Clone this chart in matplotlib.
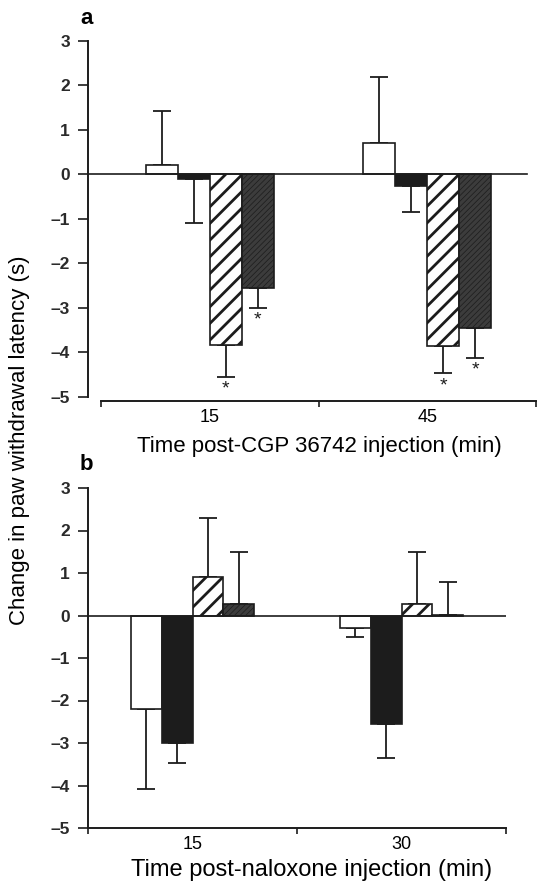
import matplotlib
matplotlib.use("Agg")
import matplotlib.pyplot as plt
import numpy as np

plt.rcParams["font.family"] = ["Liberation Sans", "DejaVu Sans"]

# panel a: time post-CGP 36742 injection
times_a = ["15", "45"]
mean_a = [[0.22, 0.70], [-0.11, -0.25], [-3.83, -3.85], [-2.55, -3.45]]
err_a = [[1.20, 1.48], [0.98, 0.60], [0.72, 0.62], [0.45, 0.68]]
sig_a = [[False, False], [False, False], [True, True], [True, True]]

# panel b: time post-naloxone injection
times_b = ["15", "30"]
mean_b = [[-2.20, -0.30], [-3.00, -2.55], [0.90, 0.28], [0.28, 0.02]]
err_b = [[1.88, 0.20], [0.48, 0.80], [1.40, 1.22], [1.22, 0.78]]

yticks = [-5, -4, -3, -2, -1, 0, 1, 2, 3]

INK = "#1c1c1c"
styles = [
    dict(facecolor="white", hatch=None, hlw=1.0),
    dict(facecolor=INK, hatch=None, hlw=1.0),
    dict(facecolor="white", hatch="//", hlw=2.0),
    dict(facecolor="#3c3c3c", hatch="//////", hlw=0.5),
]

W = 0.147


def draw_panel(ax, times, means, errs, sig=None):
    centers = np.arange(len(times)) + 0.5
    for i, st in enumerate(styles):
        x = centers + (i - 1.5) * W
        vals = np.array(means[i])
        with plt.rc_context({"hatch.linewidth": st["hlw"], "hatch.color": "#111111"}):
            bars = ax.bar(x, vals, W, facecolor=st["facecolor"], edgecolor=INK,
                          linewidth=1.2, hatch=st["hatch"], zorder=2)
            for b in bars:
                if hasattr(b, "set_hatch_linewidth"):
                    b.set_hatch_linewidth(st["hlw"])
        e = np.array(errs[i])
        lo = np.where(vals < 0, e, 0)
        hi = np.where(vals >= 0, e, 0)
        ax.errorbar(x, vals, yerr=[lo, hi], fmt="none", ecolor=INK,
                    elinewidth=1.3, capsize=6.5, capthick=1.3, zorder=1)
        if sig is not None:
            for xx, v, ee, s in zip(x, vals, e, sig[i]):
                if s:
                    ax.text(xx, v - ee - 0.08, "*", ha="center", va="top",
                            fontsize=14, color=INK)
    ax.set_xticks([0, 1, 2])
    ax.set_xticklabels([])
    ax.set_xticks(centers, minor=True)
    ax.set_xticklabels(times, minor=True, fontsize=13)
    ax.tick_params(axis="x", which="major", length=4, width=1.2, color=INK)
    ax.tick_params(axis="x", which="minor", length=0, pad=6)
    ax.set_yticks(yticks)
    ax.set_yticklabels([("\u2013%d" % -t) if t < 0 else str(t) for t in yticks],
                       fontsize=12.5, fontweight="bold", color="#2a2a2a")
    ax.tick_params(axis="y", length=7, width=1.2, color=INK, pad=6)
    for s in ["top", "right"]:
        ax.spines[s].set_visible(False)
    for s in ["left", "bottom"]:
        ax.spines[s].set_linewidth(1.4)
        ax.spines[s].set_color(INK)


fig = plt.figure(figsize=(5.41, 8.81), dpi=100)
H = 881.0
Wd = 541.0

# panel a
ax1 = fig.add_axes([88 / Wd, 1 - 401 / H, (536 - 88) / Wd, (401 - 41) / H])
draw_panel(ax1, times_a, mean_a, err_a, sig_a)
ax1.set_xlim(-0.06, 2.0)
ax1.set_ylim(-5.09, 3)
ax1.spines["bottom"].set_bounds(0, 2)
ax1.spines["left"].set_bounds(-5, 3)
ax1.plot([-0.06, 1.96], [0, 0], color=INK, lw=1.2, zorder=3)
ax1.set_xlabel("Time post-CGP 36742 injection (min)", fontsize=16)
ax1.xaxis.set_label_coords((319 - 88) / (536 - 88), -35 / 360)
fig.text(80 / Wd, 1 - 18 / H, "a", fontsize=16, fontweight="bold", va="center")

# panel b
ax2 = fig.add_axes([88 / Wd, 1 - 828 / H, (506 - 88) / Wd, (828 - 488) / H])
draw_panel(ax2, times_b, mean_b, err_b)
ax2.set_xlim(0, 2)
ax2.set_ylim(-5, 3)
ax2.axhline(0, color=INK, lw=1.2, zorder=3)
ax2.set_xlabel("Time post-naloxone injection (min)", fontsize=17)
ax2.xaxis.set_label_coords((312 - 88) / (506 - 88), -31 / 340)
fig.text(80 / Wd, 1 - 465 / H, "b", fontsize=16, fontweight="bold", va="center")

fig.text(20 / Wd, 1 - 440 / H, "Change in paw withdrawal latency (s)",
         rotation=90, ha="center", va="center", fontsize=16)

fig.savefig("out.png", dpi=100, facecolor="white")
